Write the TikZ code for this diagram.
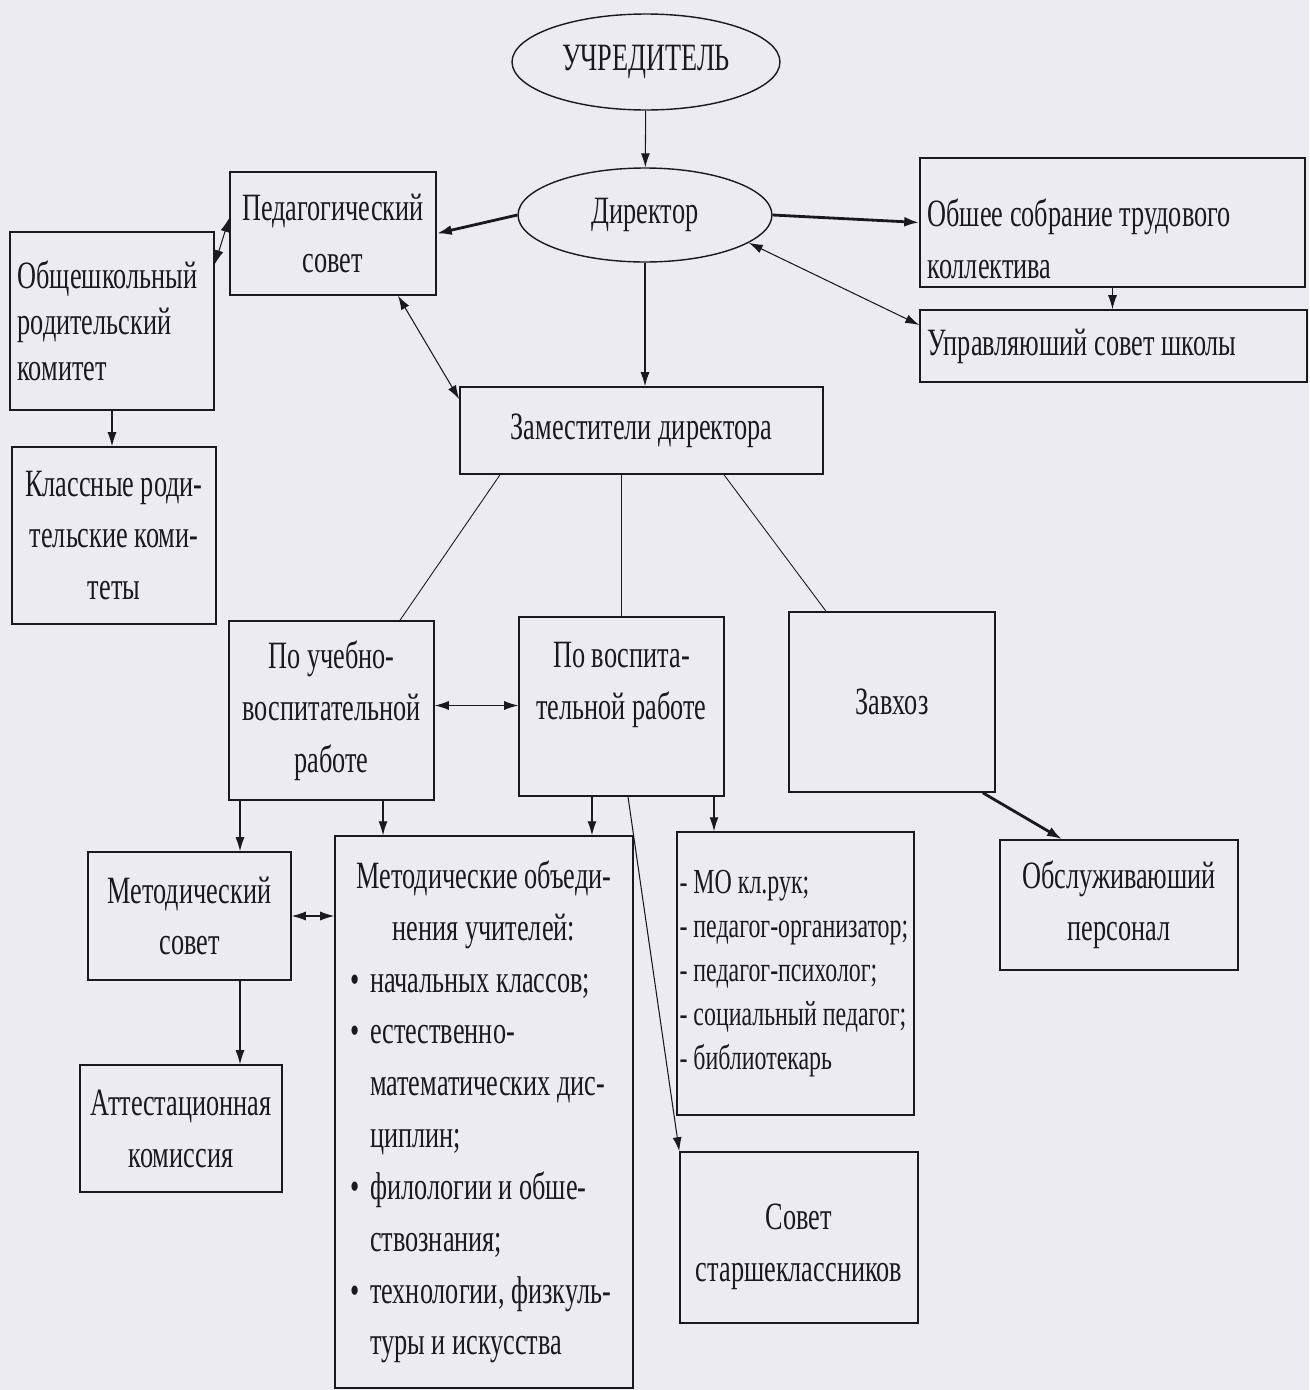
\documentclass[tikz,border=0pt]{standalone}
\usepackage{fontspec}
\setmainfont{Liberation Serif}[FakeStretch=0.68]
\usetikzlibrary{arrows.meta,shapes.geometric}
\definecolor{paper}{RGB}{236,236,240}
\definecolor{ink}{RGB}{25,25,30}

\tikzset{
  box/.style={draw=ink, line width=0.9pt, inner sep=0.15cm, align=center, text=ink},
  oval/.style={draw=ink, ellipse, line width=0.8pt, inner sep=0pt, text=ink},
  arr/.style={-{Latex[length=2.8mm,width=1.8mm]}, line width=0.6pt, draw=ink},
  darr/.style={{Latex[length=2.8mm,width=1.8mm]}-{Latex[length=2.8mm,width=1.8mm]}, line width=0.6pt, draw=ink},
  fatarr/.style={-{Latex[length=3mm,width=2mm]}, line width=1.6pt, draw=ink},
  link/.style={line width=0.5pt, draw=ink}
}
\newcommand{\itm}{\makebox[0.4cm][l]{•}}

\begin{document}
\begin{tikzpicture}[x=0.02cm, y=-0.02cm, font=\fontsize{22}{29.5}\selectfont]
\fill[paper] (0,0) rectangle (1309,1390);
\useasboundingbox (0,0) rectangle (1309,1390);

\node[oval, minimum width=5.36cm, minimum height=1.92cm] (uchr) at (646,62) {УЧРЕДИТЕЛЬ};
\node[oval, minimum width=5.08cm, minimum height=1.88cm] (dir) at (645,215) {Директор};

\node[box, minimum width=4.12cm, minimum height=2.46cm] (ped) at (333,233.5) {Педагогический\\совет};
\node[box, minimum width=4.08cm, minimum height=3.56cm, text width=3.78cm, align=flush left, font=\fontsize{22}{26}\selectfont] (obsh) at (112,321) {Общешкольный\\родительский\\комитет};
\node[box, minimum width=4.08cm, minimum height=3.54cm] (klass) at (114,535.5) {Классные роди-\\тельские коми-\\теты};
\node[box, minimum width=7.7cm, minimum height=2.58cm, text width=7.4cm, align=flush left] (obsob) at (1112.5,222.5) {\rule{0pt}{1.2cm}Обшее собрание трудового\\коллектива};
\node[box, minimum width=7.74cm, minimum height=1.44cm, text width=7.44cm, align=flush left] (upr) at (1113.5,346) {Управляюший совет школы};
\node[box, minimum width=7.26cm, minimum height=1.74cm] (zam) at (641.5,430.5) {Заместители директора};

\node[box, minimum width=4.1cm, minimum height=3.58cm] (ucheb) at (331.5,710.5) {По учебно-\\воспитательной\\работе};
\node[box, minimum width=4.1cm, minimum height=3.58cm] (vosp) at (621.5,706.5) {По воспита-\\тельной работе\\\mbox{}};
\node[box, minimum width=4.12cm, minimum height=3.6cm] (zavhoz) at (892,702) {Завхоз};
\node[box, minimum width=4.76cm, minimum height=2.6cm] (obsl) at (1119,905) {Обслуживаюший\\персонал};

\node[box, minimum width=4.06cm, minimum height=2.56cm] (metsov) at (189.5,916) {Методический\\совет};
\node[box, minimum width=4.04cm, minimum height=2.54cm] (attest) at (181,1128.5) {Аттестационная\\комиссия};
\node[box, minimum width=5.96cm, minimum height=11.04cm, inner xsep=0.3cm, text width=5.36cm, align=flush left] (metob) at (484,1112) {%
  \makebox[\hsize]{Методические объеди-}\\
  \makebox[\hsize]{нения учителей:}\\
  \itm начальных классов;\\
  \itm естественно-\\
  \hspace*{0.4cm}математических дис-\\
  \hspace*{0.4cm}циплин;\\
  \itm филологии и обше-\\
  \hspace*{0.4cm}ствознания;\\
  \itm технологии, физкуль-\\
  \hspace*{0.4cm}туры и искусства};
\node[box, minimum width=4.74cm, minimum height=5.66cm, inner xsep=0.05cm, text width=4.64cm, align=flush left, font=\fontsize{20}{25}\selectfont] (mokl) at (795.5,973.5) {%
  - МО кл.рук;\\
  - педагог-организатор;\\
  - педагог-психолог;\\
  - социальный педагог;\\
  - библиотекарь};
\node[box, minimum width=4.76cm, minimum height=3.42cm] (sovst) at (799,1237.5) {\rule{0pt}{0.9cm}Совет\\старшеклассников};

\draw[arr] (uchr) -- (dir);
\draw[fatarr] (dir.west) -- (ped.east);
\draw[fatarr] (dir.east) -- (obsob.west);
\draw[darr] (dir.-15) -- ([yshift=0.42cm]upr.west);
\draw[arr] (obsob.south) -- (obsob.south |- upr.north);
\draw[arr] (dir.south) -- (dir.south |- zam.north);
\draw[darr] ([xshift=1.3cm]ped.south) -- ([yshift=-0.26cm]zam.north west);
\draw[darr] ([yshift=-0.66cm]obsh.north east) -- ([yshift=0.31cm]ped.west);
\draw[arr] (obsh.south) -- (obsh.south |- klass.north);

\draw[link] ([xshift=-2.83cm]zam.south) -- ([xshift=1.37cm]ucheb.north);
\draw[link] (zam.south -| vosp.north) -- (vosp.north);
\draw[link] ([xshift=1.65cm]zam.south) -- ([xshift=-1.32cm]zavhoz.north);
\draw[darr] ([yshift=0.1cm]ucheb.east) -- ([yshift=0.1cm]ucheb.east -| vosp.west);
\draw[fatarr] ([xshift=-0.26cm]zavhoz.south east) -- ([xshift=-1.14cm]obsl.north);

\coordinate (m1) at ([xshift=1.01cm]metsov.north);
\coordinate (m2) at ([xshift=-2.02cm]metob.north);
\coordinate (m3) at ([xshift=2.16cm]metob.north);
\coordinate (m4) at ([xshift=-1.63cm]mokl.north);
\coordinate (m5) at ([xshift=1.01cm]metsov.south);
\draw[arr] (m1 |- ucheb.south) -- (m1);
\draw[arr] (m2 |- ucheb.south) -- (m2);
\draw[arr] (m3 |- vosp.south) -- (m3);
\draw[arr] (m4 |- vosp.south) -- (m4);
\draw[arr] ([xshift=0.13cm]vosp.south) -- (sovst.north west);
\draw[darr] (metsov.east) -- (metsov.east -| metob.west);
\draw[arr] (m5) -- (m5 |- attest.north);
\end{tikzpicture}
\end{document}
